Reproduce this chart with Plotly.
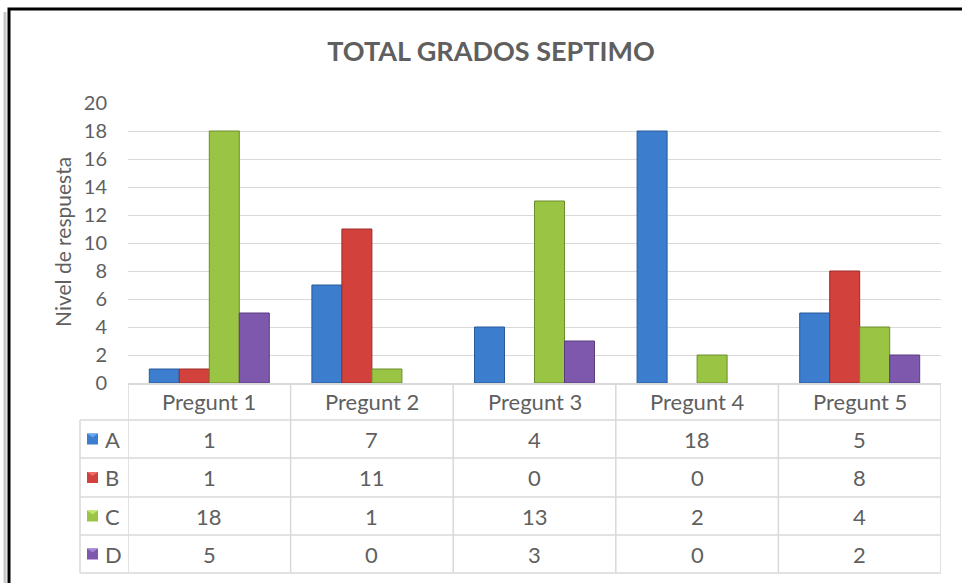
import plotly.graph_objects as go

# ---------------- data ----------------
categories = ["Pregunt 1", "Pregunt 2", "Pregunt 3", "Pregunt 4", "Pregunt 5"]
series_names = ["A", "B", "C", "D"]
values_A = [1, 7, 4, 18, 5]
values_B = [1, 11, 0, 0, 8]
values_C = [18, 1, 13, 2, 4]
values_D = [5, 0, 3, 0, 2]
y_ticks = [0, 2, 4, 6, 8, 10, 12, 14, 16, 18, 20]
title_text = "TOTAL GRADOS SEPTIMO"
y_title = "Nivel de respuesta"

series_values = [values_A, values_B, values_C, values_D]
colors = ["#3c7dce", "#d3413d", "#9ac444", "#7d58ad"]
edge_colors = ["#285a9a", "#9a2c29", "#6c8c2c", "#5a3d80"]
light_colors = ["#6aa6ec", "#ee6d69", "#c0e46e", "#a684d4"]

# ---------------- geometry (pixels) ----------------
W, H = 962, 583
PL, PR = 128, 941          # plot area left/right
PT, PB = 103, 383          # plot area top/bottom
FONT = "Lato, 'Open Sans', sans-serif"
TXT = "#5f5f5f"
GRID = "#d9d9d9"


def px(x):
    return (x - PL) / (PR - PL)


def py(y):
    return (PB - y) / (PB - PT)


fig = go.Figure()
for name, vals, c, ec in zip(series_names, series_values, colors, edge_colors):
    fig.add_trace(go.Bar(
        name=name, x=categories, y=[v if v else None for v in vals],
        marker=dict(color=c, line=dict(color=ec, width=1)),
        showlegend=False,
    ))

shapes = []
annotations = []

# ---------------- data table ----------------
row_lines = [420, 458, 497, 535, 573]
row_centers = [(row_lines[i] + row_lines[i + 1]) / 2 for i in range(4)]
header_center = (PB + row_lines[0]) / 2
tbl_left = 80

for yl in row_lines:
    shapes.append(dict(type="line", xref="paper", yref="paper",
                       x0=px(tbl_left), x1=1, y0=py(yl), y1=py(yl),
                       line=dict(color=GRID, width=1.5)))
n = len(categories)
for i in range(n + 1):
    shapes.append(dict(type="line", xref="x", yref="paper",
                       x0=i - 0.5, x1=i - 0.5, y0=py(PB), y1=py(row_lines[-1]),
                       line=dict(color=GRID, width=1.5)))
shapes.append(dict(type="line", xref="paper", yref="paper",
                   x0=px(tbl_left), x1=px(tbl_left), y0=py(row_lines[0]), y1=py(row_lines[-1]),
                   line=dict(color=GRID, width=1.5)))

for cat in categories:
    annotations.append(dict(x=cat, xref="x", y=py(header_center), yref="paper",
                            text=cat, showarrow=False, xanchor="center", yanchor="middle",
                            font=dict(family=FONT, size=22, color=TXT)))
for r, (name, vals, c, lc) in enumerate(zip(series_names, series_values, colors, light_colors)):
    yc = row_centers[r]
    shapes.append(dict(type="rect", xref="paper", yref="paper",
                       x0=px(87), x1=px(98), y0=py(yc + 5.5), y1=py(yc - 5.5),
                       fillcolor=c, line=dict(width=0)))
    shapes.append(dict(type="path", xref="paper", yref="paper",
                       path=f"M {px(87)},{py(yc - 5.5)} L {px(98)},{py(yc - 5.5)} L {px(92.5)},{py(yc - 1.5)} Z",
                       fillcolor=lc, line=dict(width=0)))
    annotations.append(dict(x=px(103), xref="paper", y=py(yc), yref="paper",
                            text=name, showarrow=False, xanchor="left", yanchor="middle",
                            font=dict(family=FONT, size=22, color=TXT)))
    for cat, v in zip(categories, vals):
        annotations.append(dict(x=cat, xref="x", y=py(yc), yref="paper",
                                text=str(v), showarrow=False, xanchor="center", yanchor="middle",
                                font=dict(family=FONT, size=22, color=TXT)))

annotations.append(dict(x=px(62), xref="paper", y=py(242), yref="paper",
                        text=y_title, textangle=-90, showarrow=False,
                        xanchor="center", yanchor="middle",
                        font=dict(family=FONT, size=21, color=TXT)))

shapes.append(dict(type="line", xref="paper", yref="paper",
                   x0=px(5), x1=px(5), y0=py(12), y1=py(600),
                   line=dict(color="#c8c8c8", width=3), layer="above"))
shapes.append(dict(type="rect", xref="paper", yref="paper",
                   x0=px(9), x1=px(990), y0=py(620), y1=py(9),
                   line=dict(color="#000000", width=3), fillcolor="rgba(0,0,0,0)", layer="above"))

fig.update_layout(
    width=W, height=H,
    margin=dict(l=PL, r=W - PR, t=PT, b=H - PB, pad=0),
    paper_bgcolor="white", plot_bgcolor="white",
    barmode="group", bargap=0.262, bargroupgap=0,
    title=dict(text=f"<b>{title_text}</b>", x=491 / W, xref="container", xanchor="center",
               y=1 - 52 / H, yref="container", yanchor="middle",
               font=dict(family=FONT, size=27, color=TXT)),
    xaxis=dict(showticklabels=False, showgrid=False, showline=True, linecolor=GRID, linewidth=1.5,
               ticks="", range=[-0.5, n - 0.5], fixedrange=True),
    yaxis=dict(range=[0, 20], tickvals=y_ticks, showgrid=True, gridcolor=GRID, gridwidth=1,
               zeroline=False, showline=False, ticks="", ticklabelstandoff=20,
               tickfont=dict(family=FONT, size=20, color=TXT)),
    shapes=shapes, annotations=annotations,
    font=dict(family=FONT, color=TXT),
)

fig.write_html("out.html", config={"displayModeBar": False},
               post_script="document.body.style.margin='0';document.body.style.padding='0';")
